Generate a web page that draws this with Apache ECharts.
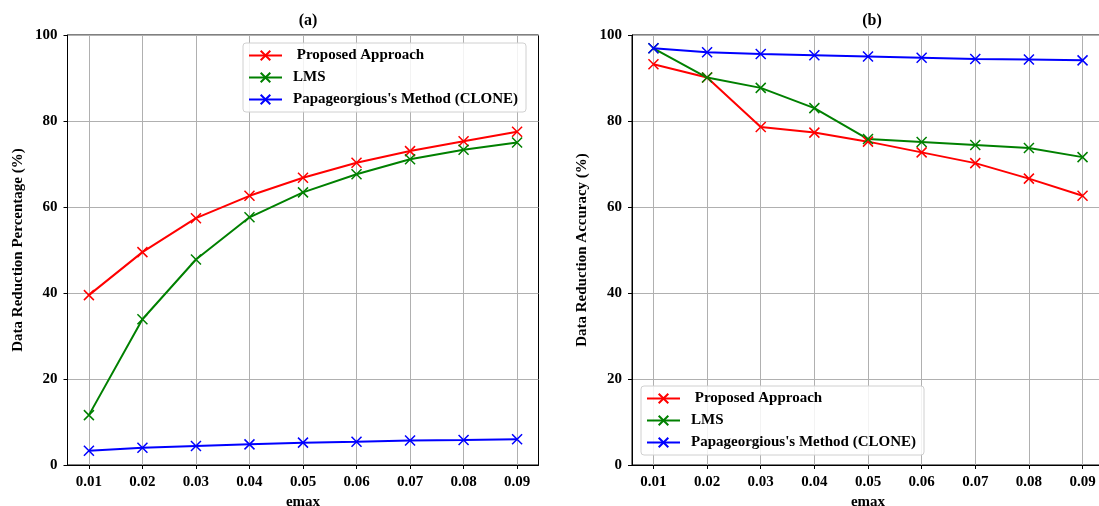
<!DOCTYPE html>
<html>
<head>
<meta charset="utf-8">
<script src="https://cdn.jsdelivr.net/npm/echarts@6/dist/echarts.min.js"></script>
<style>
  html, body { margin: 0; padding: 0; background: #fff; }
  #chart { width: 1099px; height: 506px; }
</style>
</head>
<body>
<div id="chart"></div>
<script>
// x axis values (emax)
var emax = ['0.01', '0.02', '0.03', '0.04', '0.05', '0.06', '0.07', '0.08', '0.09'];
var seriesNames = [' Proposed Approach', 'LMS', "Papageorgious's Method (CLONE)"];
var colors = ['#ff0000', '#008000', '#0000ff'];

// (a) data reduction percentage
var reductionProposed = [39.5, 49.5, 57.4, 62.6, 66.8, 70.3, 73.0, 75.3, 77.5];
var reductionLMS = [11.6, 33.9, 47.8, 57.6, 63.4, 67.6, 71.1, 73.3, 75.0];
var reductionClone = [3.3, 4.0, 4.4, 4.8, 5.2, 5.4, 5.7, 5.8, 6.0];

// (b) data reduction accuracy
var accuracyProposed = [93.2, 90.1, 78.6, 77.3, 75.2, 72.7, 70.2, 66.6, 62.6];
var accuracyLMS = [96.9, 90.1, 87.7, 83.0, 75.8, 75.1, 74.4, 73.7, 71.6];
var accuracyClone = [96.9, 96.0, 95.6, 95.3, 95.0, 94.7, 94.4, 94.3, 94.1];

var font = 'Liberation Serif';
var crossSymbol = 'path://M0,0L10,10M10,0L0,10';
var xs = emax.map(function (v) { return parseFloat(v); });

function pairs(vals) {
    return vals.map(function (v, i) { return [xs[i], v]; });
}

function xAxisFor(idx) {
    return {
        type: 'value', gridIndex: idx, min: 0.006, max: 0.094,
        name: 'emax', nameLocation: 'middle', nameGap: 27,
        nameTextStyle: { fontFamily: font, fontWeight: 'bold', fontSize: 15, color: '#000' },
        axisLine: { show: true, lineStyle: { color: '#000', width: 1 } },
        axisTick: { show: true, customValues: xs, length: 4, lineStyle: { color: '#000' } },
        axisLabel: {
            customValues: xs, margin: 10,
            fontFamily: font, fontWeight: 'bold', fontSize: 15, color: '#000',
            formatter: function (v) { return v.toFixed(2); }
        },
        splitLine: { show: false }
    };
}

function yAxisFor(idx, name) {
    return {
        type: 'value', gridIndex: idx, min: 0, max: 100, interval: 20,
        name: name, nameLocation: 'middle', nameGap: 42,
        nameTextStyle: { fontFamily: font, fontWeight: 'bold', fontSize: 15, color: '#000' },
        axisLine: { show: true, lineStyle: { color: '#000', width: 1 } },
        axisTick: { show: true, length: 4, lineStyle: { color: '#000' } },
        axisLabel: { margin: 10, fontFamily: font, fontWeight: 'bold', fontSize: 15, color: '#000' },
        splitLine: { show: true, lineStyle: { color: '#b0b0b0', width: 1 } }
    };
}

function lineSeries(name, color, idx, vals, withGrid) {
    var s = {
        name: name, type: 'line', xAxisIndex: idx, yAxisIndex: idx,
        data: pairs(vals),
        symbol: crossSymbol, symbolSize: 10, showAllSymbol: true,
        lineStyle: { color: color, width: 2 },
        itemStyle: { color: color, borderColor: color, borderWidth: 1.5 },
        emphasis: { disabled: true }, animation: false, z: 3
    };
    if (withGrid) {
        // vertical grid lines at each emax
        s.markLine = {
            silent: true, symbol: 'none', animation: false, z: 1,
            label: { show: false },
            lineStyle: { color: '#b0b0b0', width: 1, type: 'solid' },
            data: xs.map(function (x) { return { xAxis: x }; })
        };
    }
    return s;
}

function legendAt(left, top) {
    return {
        left: left, top: top, orient: 'vertical',
        data: seriesNames,
        itemWidth: 33, itemHeight: 12, itemGap: 7,
        padding: [5, 8, 5, 5],
        borderColor: '#d0d0d0', borderWidth: 1, borderRadius: 3,
        backgroundColor: 'rgba(255,255,255,0.85)',
        textStyle: { fontFamily: font, fontWeight: 'bold', fontSize: 15, color: '#000', padding: [0, 0, 0, 6] },
        selectedMode: false
    };
}

var chart = echarts.init(document.getElementById('chart'));
chart.setOption({
    animation: false,
    title: [
        { text: '(a)', left: 303, top: 8, textAlign: 'center',
          textStyle: { fontFamily: font, fontWeight: 'bold', fontSize: 16, color: '#000' } },
        { text: '(b)', left: 867, top: 8, textAlign: 'center',
          textStyle: { fontFamily: font, fontWeight: 'bold', fontSize: 16, color: '#000' } }
    ],
    grid: [
        { left: 67.5, top: 35, width: 471, height: 430, outerBoundsMode: 'none', containLabel: false,
          show: true, borderColor: '#000', borderWidth: 1, backgroundColor: 'transparent' },
        { left: 632, top: 35, width: 472, height: 430, outerBoundsMode: 'none', containLabel: false,
          show: true, borderColor: '#000', borderWidth: 1, backgroundColor: 'transparent' }
    ],
    xAxis: [xAxisFor(0), xAxisFor(1)],
    yAxis: [yAxisFor(0, 'Data Reduction Percentage (%)'), yAxisFor(1, 'Data Reduction Accuracy (%)')],
    legend: [legendAt(243, 43), legendAt(641, 386)],
    series: [
        lineSeries(seriesNames[0], colors[0], 0, reductionProposed, true),
        lineSeries(seriesNames[1], colors[1], 0, reductionLMS, false),
        lineSeries(seriesNames[2], colors[2], 0, reductionClone, false),
        lineSeries(seriesNames[0], colors[0], 1, accuracyProposed, true),
        lineSeries(seriesNames[1], colors[1], 1, accuracyLMS, false),
        lineSeries(seriesNames[2], colors[2], 1, accuracyClone, false)
    ]
});
</script>
</body>
</html>
